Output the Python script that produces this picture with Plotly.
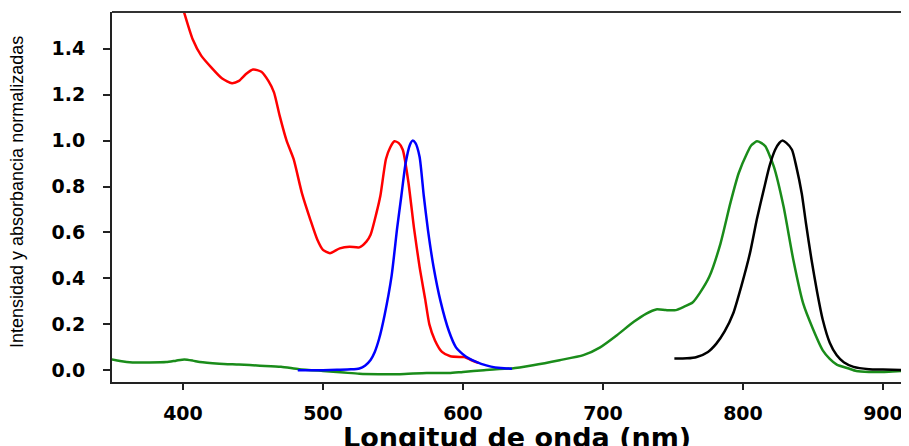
import plotly.graph_objects as go

# Absorbance (red)
red_nm = [400, 407, 413, 420, 428, 435, 440, 445, 450, 456, 461, 465, 469, 474, 479, 485, 491, 496,
          500, 505, 512, 519, 526, 531, 534, 538, 541, 545, 548, 551, 554, 557, 561, 565, 569, 573,
          576, 580, 585, 591, 598, 601, 605, 611]
red_val = [1.575, 1.44, 1.37, 1.32, 1.27, 1.25, 1.26, 1.29, 1.31, 1.30, 1.26, 1.21, 1.11, 1.00, 0.92,
           0.77, 0.655, 0.568, 0.524, 0.51, 0.531, 0.538, 0.535, 0.56, 0.59, 0.68, 0.76, 0.92, 0.97,
           0.997, 0.99, 0.96, 0.82, 0.62, 0.45, 0.31, 0.2, 0.13, 0.08, 0.061, 0.058, 0.058, 0.047, 0.032]

# Emission (blue)
blue_nm = [482, 490, 500, 510, 520, 526, 530, 534, 537, 540, 544, 549, 553, 556, 559, 562, 564, 566,
           569, 572, 575, 579, 584, 590, 595, 598, 602, 607, 613, 620, 627, 635]
blue_val = [0.0, 0.0, 0.0, 0.002, 0.004, 0.008, 0.02, 0.045, 0.08, 0.135, 0.24, 0.41, 0.62, 0.76, 0.9,
            0.98, 1.0, 0.99, 0.93, 0.76, 0.61, 0.45, 0.3, 0.17, 0.1, 0.08, 0.06, 0.043, 0.028, 0.016,
            0.01, 0.007]

# Absorbance NIR (green)
green_nm = [349, 355, 364, 376, 388, 395, 401, 407, 412, 426, 440, 455, 470, 483, 500, 515, 526, 540,
            555, 574, 590, 600, 615, 626, 635, 650, 669, 686, 698, 710, 722, 731, 738, 745, 752, 758,
            764, 769, 776, 784, 791, 797, 803, 806, 810, 813, 816, 822, 829, 836, 843, 850, 857, 862,
            867, 875, 881, 890, 900, 910, 919]
green_val = [0.047, 0.04, 0.034, 0.034, 0.036, 0.042, 0.047, 0.042, 0.036, 0.029, 0.025, 0.02, 0.015,
             0.005, -0.003, -0.01, -0.015, -0.017, -0.017, -0.012, -0.012, -0.007, 0.0, 0.006, 0.008,
             0.022, 0.044, 0.066, 0.10, 0.153, 0.211, 0.247, 0.265, 0.262, 0.262, 0.277, 0.295, 0.335,
             0.408, 0.553, 0.728, 0.859, 0.946, 0.98, 0.997, 0.99, 0.975, 0.888, 0.713, 0.48, 0.291,
             0.18, 0.087, 0.05, 0.025, 0.009, -0.003, -0.007, -0.007, -0.004, -0.002]

# Emission NIR (black)
black_nm = [751, 760, 767, 775, 781, 787, 793, 799, 805, 810, 815, 819, 823, 826, 828, 831, 835, 838,
            842, 845, 849, 853, 857, 862, 867, 872, 879, 890, 900, 919]
black_val = [0.051, 0.052, 0.058, 0.08, 0.116, 0.17, 0.247, 0.37, 0.51, 0.66, 0.79, 0.89, 0.96, 0.99,
             1.0, 0.99, 0.96, 0.89, 0.77, 0.64, 0.48, 0.34, 0.22, 0.12, 0.065, 0.035, 0.015, 0.005,
             0.003, 0.0]

x_ticks = [400, 500, 600, 700, 800, 900]
y_ticks = [0.0, 0.2, 0.4, 0.6, 0.8, 1.0, 1.2, 1.4]

fig = go.Figure()
for xs, ys, col in [(green_nm, green_val, "#1a8c1a"), (red_nm, red_val, "#ff0000"),
                    (blue_nm, blue_val, "#0000ff"), (black_nm, black_val, "#000000")]:
    fig.add_trace(go.Scatter(x=xs, y=ys, mode="lines",
                             line=dict(color=col, width=2.5, shape="spline", smoothing=0.6),
                             showlegend=False, hoverinfo="skip"))

tickfont = dict(family="DejaVu Sans", size=19, color="black", weight="bold")

# The page body has an 8px margin, so the figure is 8px smaller and margins compensate.
fig.update_layout(
    width=901, height=438,
    margin=dict(l=104, r=0, t=4, b=64),
    plot_bgcolor="white", paper_bgcolor="white",
    xaxis=dict(range=[349.3, 918.6], tickvals=x_ticks, ticktext=[str(v) for v in x_ticks],
               showgrid=False, zeroline=False, showline=True, linecolor="#222", linewidth=2,
               ticks="outside", ticklen=6, tickwidth=1.5, tickcolor="#222",
               tickfont=tickfont, ticklabelstandoff=7),
    yaxis=dict(range=[-0.051, 1.56], tickvals=y_ticks, ticktext=[f"{v:.1f}" for v in y_ticks],
               showgrid=False, zeroline=False, showline=True, linecolor="#222", linewidth=2,
               ticks="outside", ticklen=7, tickwidth=1.5, tickcolor="#222",
               tickfont=tickfont, ticklabelstandoff=14),
    shapes=[dict(type="line", xref="paper", yref="paper", x0=0, x1=1, y0=1, y1=1,
                 line=dict(color="#333", width=2))],
    annotations=[
        dict(text="Intensidad y absorbancia normalizadas", xref="paper", yref="paper",
             x=-0.1192, y=0.5135, xanchor="center", yanchor="middle", textangle=-90,
             showarrow=False, font=dict(family="Liberation Sans", size=18, color="black")),
        dict(text="Longitud de onda (nm)", xref="paper", yref="paper",
             x=0.508, y=-0.1497, xanchor="center", yanchor="middle",
             showarrow=False, font=dict(family="DejaVu Sans", size=27, color="black", weight="bold")),
    ],
)

fig.write_html("out.html")
